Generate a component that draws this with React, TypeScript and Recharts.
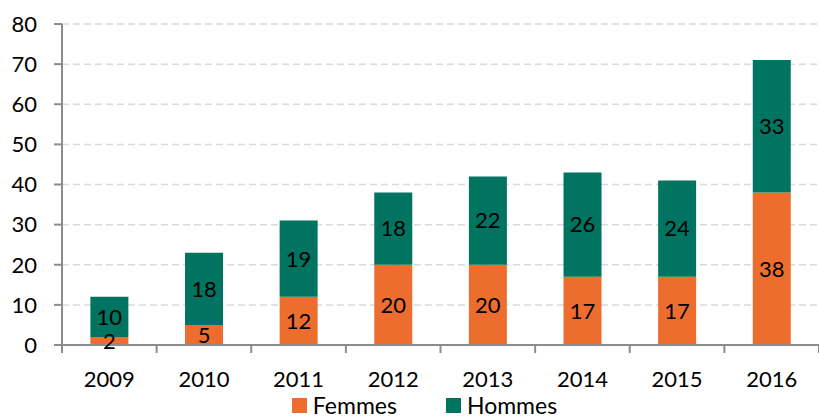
import { BarChart, Bar, XAxis, YAxis, CartesianGrid, Legend, LabelList } from "recharts";

const YEARS = ["2009", "2010", "2011", "2012", "2013", "2014", "2015", "2016"];
const FEMMES = [2, 5, 12, 20, 20, 17, 17, 38];
const HOMMES = [10, 18, 19, 18, 22, 26, 24, 33];
const Y_TICKS = [0, 10, 20, 30, 40, 50, 60, 70, 80];

const SERIES = [
  { key: "femmes", label: "Femmes", color: "#EC6D2D" },
  { key: "hommes", label: "Hommes", color: "#007460" },
];

const data = YEARS.map((year, i) => ({ year, femmes: FEMMES[i], hommes: HOMMES[i] }));

const FONT = "Lato, 'Open Sans', sans-serif";
const AXIS_COLOR = "#8c8c8c";

function YearTick(props: any) {
  const { x, y, payload, index } = props;
  const half = payload?.offset || 47.4;
  return (
    <g>
      <line x1={x - half} x2={x - half} y1={y - 8} y2={y} stroke={AXIS_COLOR} strokeWidth={2} />
      {index === YEARS.length - 1 && (
        <line x1={x + half} x2={x + half} y1={y - 8} y2={y} stroke={AXIS_COLOR} strokeWidth={2} />
      )}
      <text x={x} y={y + 34} textAnchor="middle" fill="#000" fontSize={22} fontFamily={FONT}>
        {payload.value}
      </text>
    </g>
  );
}

function LegendRow(props: any) {
  const items = props.payload ?? [];
  return (
    <div style={{ display: "flex", justifyContent: "center", gap: 49, fontFamily: FONT, fontSize: 23, lineHeight: "18px", paddingLeft: 30 }}>
      {items.map((it: any) => (
        <div key={it.value} style={{ display: "flex", alignItems: "center" }}>
          <span style={{ display: "inline-block", width: 15, height: 15, background: it.color, marginRight: 6 }} />
          <span>{it.value}</span>
        </div>
      ))}
    </div>
  );
}

export default function App() {
  return (
    <div style={{ position: "absolute", left: 0, top: 0, width: 819, height: 418, background: "#fff" }}>
      <BarChart
        width={819}
        height={418}
        data={data}
        margin={{ top: 24, right: 0, bottom: 0, left: 0 }}
        barCategoryGap="30%"
      >
        <CartesianGrid vertical={false} stroke="#d9d9d9" strokeDasharray="7 4" strokeWidth={1.5} />
        <XAxis
          dataKey="year"
          height={51}
          axisLine={{ stroke: AXIS_COLOR, strokeWidth: 2 }}
          tickLine={false}
          tick={<YearTick />}
          interval={0}
        />
        <YAxis
          width={62}
          domain={[0, 80]}
          ticks={Y_TICKS}
          interval={0}
          axisLine={{ stroke: AXIS_COLOR, strokeWidth: 2 }}
          tickLine={{ stroke: AXIS_COLOR, strokeWidth: 2 }}
          tickSize={8}
          tickMargin={17}
          tick={{ fill: "#000", fontSize: 22, fontFamily: FONT }}
        />
        <Legend
          verticalAlign="bottom"
          height={22}
          content={<LegendRow />}
          wrapperStyle={{ left: 0, width: 819, top: 396 }}
        />
        {SERIES.map((s) => (
          <Bar key={s.key} dataKey={s.key} name={s.label} stackId="a" fill={s.color} isAnimationActive={false}>
            <LabelList dataKey={s.key} position="center" fill="#000" fontSize={22} fontFamily={FONT} />
          </Bar>
        ))}
      </BarChart>
    </div>
  );
}
